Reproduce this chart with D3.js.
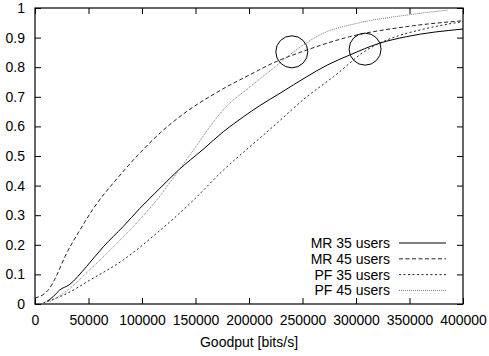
<!DOCTYPE html>
<html>
<head>
<meta charset="utf-8">
<script src="https://cdn.jsdelivr.net/npm/d3@7/dist/d3.min.js"></script>
<style>
  body { margin: 0; background: #fff; }
  svg { display: block; font-family: "Liberation Sans", Arial, sans-serif; }
</style>
</head>
<body>
<div id="chart"></div>
<script>
// goodput CDF, values
var xTicks = [0, 50000, 100000, 150000, 200000, 250000, 300000, 350000, 400000];
var yTicks = [0, 0.1, 0.2, 0.3, 0.4, 0.5, 0.6, 0.7, 0.8, 0.9, 1];

var mr35 = [[11000,0.008],[17000,0.025],[23000,0.047],[32000,0.065],[48000,0.126],[64000,0.194],
  [82500,0.262],[98000,0.323],[116800,0.391],[134000,0.452],[157000,0.522],[176000,0.582],
  [195000,0.633],[210000,0.67],[229000,0.712],[254000,0.768],[273000,0.807],[294000,0.841],
  [322000,0.881],[347000,0.903],[400000,0.929]];
var mr45 = [[0,0.02],[13000,0.05],[20000,0.095],[28000,0.16],[42000,0.25],[56000,0.33],
  [77000,0.425],[98000,0.51],[117000,0.578],[139000,0.643],[170000,0.715],[201000,0.775],
  [223000,0.815],[254000,0.858],[294000,0.903],[347000,0.937],[400000,0.957]];
var pf35 = [[8000,0.004],[30000,0.036],[51000,0.08],[82500,0.149],[113700,0.239],[145000,0.34],
  [176000,0.452],[210000,0.56],[222700,0.6],[254000,0.7],[279000,0.768],[310000,0.858],
  [329000,0.892],[366000,0.931],[400000,0.954]];
var pf45 = [[14000,0.008],[30000,0.045],[51000,0.115],[82500,0.227],[113700,0.351],[134000,0.45],
  [151000,0.535],[163600,0.6],[179000,0.668],[198000,0.725],[210000,0.76],[222700,0.796],
  [240000,0.847],[269000,0.914],[300600,0.948],[347400,0.976],[386000,0.993]];

var seriesNames = ["MR 35 users", "MR 45 users", "PF 35 users", "PF 45 users"];
var seriesData = [mr35, mr45, pf35, pf45];
// crossing points marked with circles
var marks = [[240000, 0.852], [308500, 0.861]];

var styles = [
  {stroke: "#000", dash: null},
  {stroke: "#222", dash: "4,2.5"},
  {stroke: "#222", dash: "2,2.5"},
  {stroke: "#777", dash: "1,1"}
];

var W = 489, H = 356;
var margin = {top: 8, right: 26, bottom: 52, left: 35};
var width = W - margin.left - margin.right,
    height = H - margin.top - margin.bottom;

var svg = d3.select("#chart").append("svg")
   .attr("width", W)
   .attr("height", H)
  .append("g")
   .attr("transform", "translate(" + margin.left + "," + margin.top + ")");

var x = d3.scaleLinear().domain([0, 400000]).range([0, width]);
var y = d3.scaleLinear().domain([0, 1]).range([height, 0]);

//inward ticks on all four sides, gnuplot style
function styleAxis(g) {
  g.select(".domain").remove();
  g.selectAll(".tick line").attr("stroke", "#000");
  g.selectAll(".tick text").style("font-size", "14px").attr("fill", "#000");
}
svg.append("g")
   .attr("transform", "translate(0," + height + ")")
   .call(d3.axisBottom(x).tickValues(xTicks).tickFormat(d3.format("d")).tickSizeInner(-6).tickPadding(11))
   .call(styleAxis);
svg.append("g")
   .call(d3.axisTop(x).tickValues(xTicks).tickFormat("").tickSizeInner(-6))
   .call(styleAxis);
svg.append("g")
   .call(d3.axisLeft(y).tickValues(yTicks).tickFormat(function(d) { return d === 0 || d === 1 ? d : d.toFixed(1); }).tickSizeInner(-6).tickPadding(10))
   .call(styleAxis);
svg.append("g")
   .attr("transform", "translate(" + width + ",0)")
   .call(d3.axisRight(y).tickValues(yTicks).tickFormat("").tickSizeInner(-6))
   .call(styleAxis);

svg.append("rect")
   .attr("width", width)
   .attr("height", height)
   .attr("fill", "none")
   .attr("stroke", "#000")
   .attr("stroke-width", 1.2);

var line = d3.line()
   .x(function(d) { return x(d[0]); })
   .y(function(d) { return y(d[1]); })
   .curve(d3.curveMonotoneX);

seriesData.forEach(function(data, i) {
  svg.append("path")
     .datum(data)
     .attr("d", line)
     .attr("fill", "none")
     .attr("stroke", styles[i].stroke)
     .attr("stroke-width", 1)
     .attr("stroke-dasharray", styles[i].dash);
});

marks.forEach(function(m) {
  svg.append("circle")
     .attr("cx", x(m[0]))
     .attr("cy", y(m[1]))
     .attr("r", 16)
     .attr("fill", "none")
     .attr("stroke", "#000")
     .attr("stroke-width", 1);
});

//legend
var lg = svg.append("g").attr("transform", "translate(" + (390 - margin.left) + "," + (243 - margin.top) + ")");
seriesNames.forEach(function(name, i) {
  lg.append("text")
    .text(name)
    .attr("x", 0)
    .attr("y", i * 15.8)
    .attr("dy", "0.35em")
    .attr("text-anchor", "end")
    .style("font-size", "14px");
  lg.append("line")
    .attr("x1", 9)
    .attr("x2", 56)
    .attr("y1", i * 15.8)
    .attr("y2", i * 15.8)
    .attr("stroke", styles[i].stroke)
    .attr("stroke-width", 1)
    .attr("stroke-dasharray", styles[i].dash);
});

svg.append("text")
   .text("Goodput [bits/s]")
   .attr("x", width / 2)
   .attr("y", height + 43)
   .attr("text-anchor", "middle")
   .style("font-size", "14px");
</script>
</body>
</html>
